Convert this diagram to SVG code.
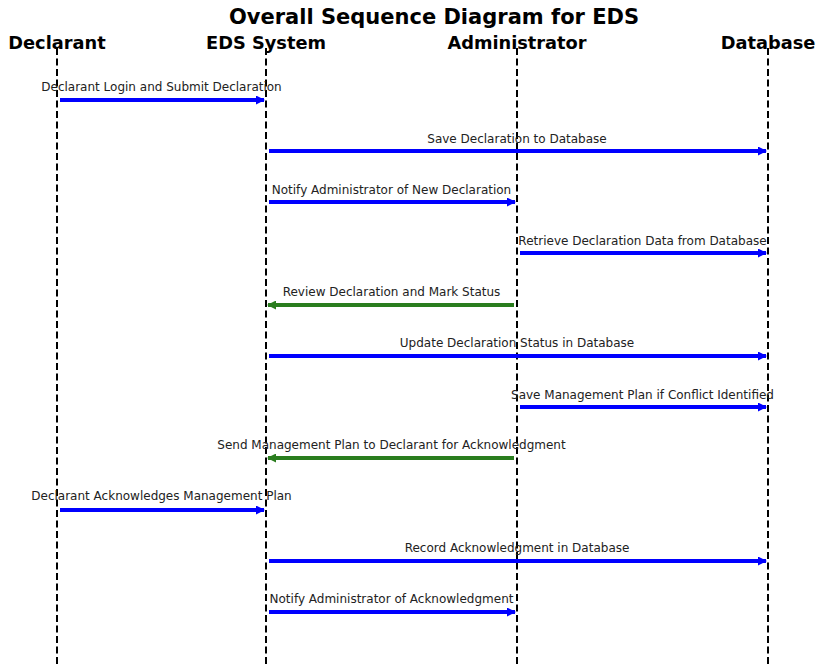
<svg xmlns="http://www.w3.org/2000/svg" width="816" height="666" viewBox="0 0 816 666">
<defs>
<marker id="hb" markerWidth="9" markerHeight="9" refX="8" refY="4.5" orient="auto" markerUnits="userSpaceOnUse"><path d="M0,0 L9,4.5 L0,9 Z" fill="#0000ff"/></marker>
<marker id="hg" markerWidth="9" markerHeight="9" refX="8" refY="4.5" orient="auto" markerUnits="userSpaceOnUse"><path d="M0,0 L9,4.5 L0,9 Z" fill="#2a7d1e"/></marker>
</defs>
<style>
.life{stroke:#000;stroke-width:2;stroke-dasharray:7,3.5;fill:none}
.actor{font-family:"DejaVu Sans",sans-serif;font-weight:bold;font-size:17.8px;text-anchor:middle;fill:#000}
.title{font-family:"DejaVu Sans",sans-serif;font-weight:bold;font-size:21px;text-anchor:middle;fill:#000}
.lbl{font-family:"DejaVu Sans",sans-serif;font-size:12px;text-anchor:middle;fill:#222}
.b{stroke:#0000ff;stroke-width:4;fill:none;marker-end:url(#hb)}
.g{stroke:#2a7d1e;stroke-width:4;fill:none;marker-end:url(#hg)}
</style>
<rect width="816" height="666" fill="#fff"/>
<text class="title" x="434" y="24">Overall Sequence Diagram for EDS</text>
<g id="declarant"><line class="life" x1="57" y1="48" x2="57" y2="664"/><text class="actor" x="57" y="49">Declarant</text></g>
<g id="eds"><line class="life" x1="266" y1="48" x2="266" y2="664"/><text class="actor" x="266" y="49">EDS System</text></g>
<g id="admin"><line class="life" x1="517" y1="48" x2="517" y2="664"/><text class="actor" x="517" y="49">Administrator</text></g>
<g id="database"><line class="life" x1="768" y1="48" x2="768" y2="664"/><text class="actor" x="768" y="49">Database</text></g>
<g id="connectors">
<line class="b" x1="60" y1="100" x2="264" y2="100"/>
<line class="b" x1="269" y1="151" x2="766" y2="151"/>
<line class="b" x1="269" y1="202" x2="515" y2="202"/>
<line class="b" x1="520" y1="253" x2="766" y2="253"/>
<line class="g" x1="514" y1="305" x2="268" y2="305"/>
<line class="b" x1="269" y1="356" x2="766" y2="356"/>
<line class="b" x1="520" y1="407" x2="766" y2="407"/>
<line class="g" x1="514" y1="458" x2="268" y2="458"/>
<line class="b" x1="60" y1="510" x2="264" y2="510"/>
<line class="b" x1="269" y1="561" x2="766" y2="561"/>
<line class="b" x1="269" y1="612" x2="515" y2="612"/>
<text class="lbl" x="161.5" y="90.5">Declarant Login and Submit Declaration</text>
<text class="lbl" x="517" y="142.5">Save Declaration to Database</text>
<text class="lbl" x="391.5" y="193.5">Notify Administrator of New Declaration</text>
<text class="lbl" x="642.5" y="244.5">Retrieve Declaration Data from Database</text>
<text class="lbl" x="391.5" y="295.5">Review Declaration and Mark Status</text>
<text class="lbl" x="517" y="346.5">Update Declaration Status in Database</text>
<text class="lbl" x="642.5" y="398.5">Save Management Plan if Conflict Identified</text>
<text class="lbl" x="391.5" y="448.5">Send Management Plan to Declarant for Acknowledgment</text>
<text class="lbl" x="161.5" y="499.5">Declarant Acknowledges Management Plan</text>
<text class="lbl" x="517" y="551.5">Record Acknowledgment in Database</text>
<text class="lbl" x="391.5" y="602.5">Notify Administrator of Acknowledgment</text>
</g>
</svg>
